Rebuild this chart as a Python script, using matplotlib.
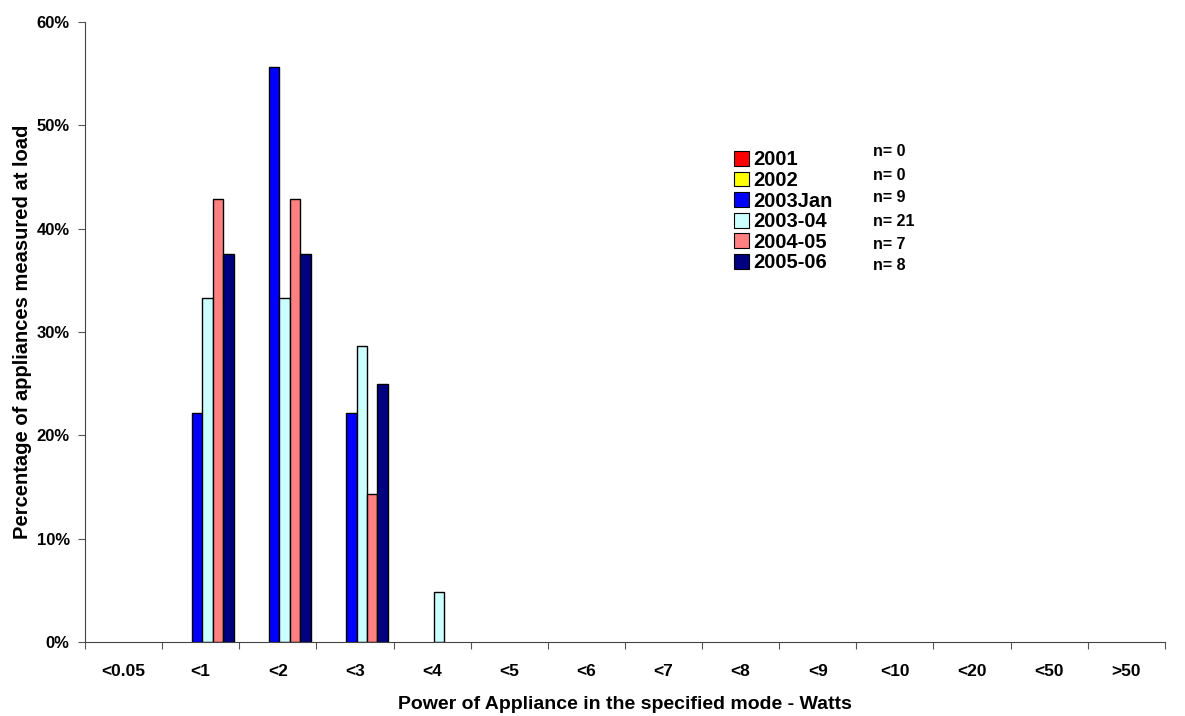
"""
Standby power distribution by survey year.
"""

import numpy as np
import matplotlib.pyplot as plt
from matplotlib.patches import Patch
from matplotlib.ticker import FixedLocator, PercentFormatter

plt.rcParams["font.family"] = ["Liberation Sans", "DejaVu Sans"]
plt.rcParams["font.weight"] = "bold"

categories = ["<0.05", "<1", "<2", "<3", "<4", "<5", "<6", "<7", "<8", "<9",
              "<10", "<20", "<50", ">50"]
series = ["2001", "2002", "2003Jan", "2003-04", "2004-05", "2005-06"]
counts = ["n= 0", "n= 0", "n= 9", "n= 21", "n= 7", "n= 8"]
colors = ["#ff0000", "#ffff00", "#0000ff", "#ccffff", "#ff8080", "#000080"]

v2001 = [0] * 14
v2002 = [0] * 14
v2003jan = [0, 22.2, 55.6, 22.2, 0, 0, 0, 0, 0, 0, 0, 0, 0, 0]
v2003_04 = [0, 33.3, 33.3, 28.6, 4.8, 0, 0, 0, 0, 0, 0, 0, 0, 0]
v2004_05 = [0, 42.9, 42.9, 14.3, 0, 0, 0, 0, 0, 0, 0, 0, 0, 0]
v2005_06 = [0, 37.5, 37.5, 25.0, 0, 0, 0, 0, 0, 0, 0, 0, 0, 0]
values = [v2001, v2002, v2003jan, v2003_04, v2004_05, v2005_06]

fig = plt.figure(figsize=(11.85, 7.16), dpi=100)
ax = fig.add_axes([0.0717, 0.1034, 0.9113, 0.8659])

x = np.arange(len(categories))
w = 0.136
for i, (vals, c) in enumerate(zip(values, colors)):
    h = np.array(vals, dtype=float)
    mask = h > 0
    ax.bar(x[mask] + (i - 2.35) * w, h[mask], width=w, color=c,
           edgecolor="black", linewidth=1.0)

ax.set_xlim(-0.5, len(categories) - 0.5)
ax.set_ylim(0, 60)
ax.set_yticks(np.arange(0, 61, 10))
ax.yaxis.set_major_formatter(PercentFormatter(decimals=0))

ax.set_xticks(np.arange(-0.5, len(categories)), labels=[])
ax.xaxis.set_minor_locator(FixedLocator(x))
ax.set_xticklabels(categories, minor=True)
ax.tick_params(axis="x", which="major", length=5, direction="out", color="#555555")
ax.tick_params(axis="x", which="minor", length=0, pad=16, labelsize=12.5)
ax.tick_params(axis="y", length=5, labelsize=12, pad=6, color="#555555")

for s in ["top", "right"]:
    ax.spines[s].set_visible(False)
ax.spines["left"].set_color("#444444")
ax.spines["bottom"].set_color("#444444")

ax.set_xlabel("Power of Appliance in the specified mode - Watts",
              fontsize=14, fontweight="bold", labelpad=12)
ax.set_ylabel("Percentage of appliances measured at load",
              fontsize=14.5, fontweight="bold", labelpad=3)

handles = [Patch(facecolor=c, edgecolor="black", linewidth=0.8) for c in colors]
fig.legend(handles, series, loc="upper left", bbox_to_anchor=(0.611, 0.804),
           frameon=False, prop={"weight": "bold", "size": 14.5},
           handlelength=0.75, handleheight=0.75, handletextpad=0.2,
           labelspacing=0.08, borderpad=0)

n_y = [152, 176, 197, 221, 245, 266]
for lab, yy in zip(counts, n_y):
    fig.text(873 / 1185, 1 - yy / 716, lab, fontsize=11.5, fontweight="bold",
             va="center", ha="left")

fig.savefig("out.png", dpi=100)
